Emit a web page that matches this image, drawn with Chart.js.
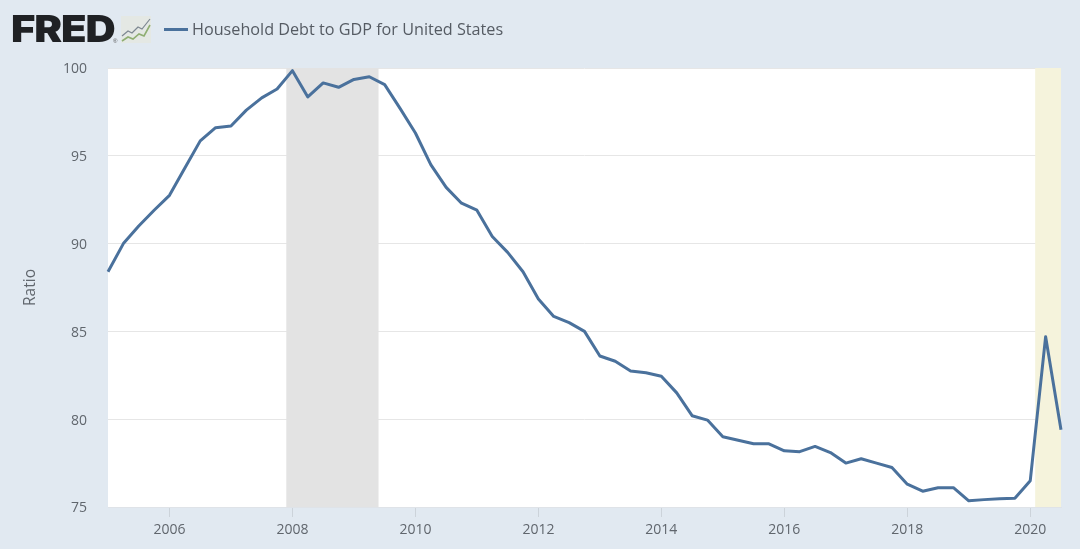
<!DOCTYPE html>
<html>
<head>
<meta charset="utf-8">
<style>
html,body{margin:0;padding:0;width:1080px;height:549px;overflow:hidden;background:#e1e9f1;}
#wrap{position:relative;width:1080px;height:549px;}
canvas#c{position:absolute;left:0;top:0;}
#logo{position:absolute;left:11px;top:8px;font:900 37px "Inter","Liberation Sans",sans-serif;letter-spacing:-1px;color:#1f2124;line-height:42px;transform:scaleX(1.13);transform-origin:left center;}
#reg{position:absolute;left:113px;top:38px;font:6px "Liberation Sans",sans-serif;color:#555;}
#icon{position:absolute;left:120px;top:16px;}
#key{position:absolute;left:164px;top:28px;width:24px;height:2.5px;background:#4a719c;}
#title{position:absolute;left:192px;top:17px;font:16.2px "Open Sans",sans-serif;color:#555b63;line-height:24px;white-space:nowrap;}
</style>
</head>
<body>
<div id="wrap">
<canvas id="c" width="1080" height="549"></canvas>
<div id="logo">FRED</div>
<div id="reg">®</div>
<svg id="icon" width="32" height="28" viewBox="0 0 32 28">
<rect x="1" y="0" width="30" height="27" fill="#e4e8e4"/>
<polyline points="2,20 8,15 12,17 18,11 22,13 30,3" fill="none" stroke="#7d8791" stroke-width="1.2"/>
<polyline points="2,25 8,21 13,23 19,18 24,20 30,9" fill="none" stroke="#8fae72" stroke-width="1.6"/>
</svg>
<div id="key"></div>
<div id="title"></div>
</div>
<script src="https://cdn.jsdelivr.net/npm/chart.js@4"></script>
<script>
const seriesName = "Household Debt to GDP for United States";
const yAxisTitle = "Ratio";
const startYear = 2005;
const quarterStep = 0.25;
const debtToGdp = [
  88.4, 90.0, 91.0, 91.9,
  92.75, 94.3, 95.85, 96.6,
  96.7, 97.6, 98.3, 98.8,
  99.85, 98.35, 99.15, 98.9,
  99.35, 99.5, 99.05, 97.7,
  96.3, 94.5, 93.2, 92.3,
  91.9, 90.4, 89.5, 88.4,
  86.85, 85.85, 85.5, 85.0,
  83.6, 83.3, 82.75, 82.65,
  82.45, 81.5, 80.2, 79.95,
  79.0, 78.8, 78.6, 78.6,
  78.2, 78.15, 78.45, 78.1,
  77.5, 77.75, 77.5, 77.25,
  76.3, 75.9, 76.1, 76.1,
  75.35, 75.42, 75.47, 75.5,
  76.5, 84.7, 79.4
];
const recessionStarts = [2007.9, 2020.08];
const recessionEnds = [2009.4, 2020.5];
const recessionColors = ["#e3e3e3", "#f5f3dc"];
const yTicks = [75, 80, 85, 90, 95, 100];
const xTicks = [2006, 2008, 2010, 2012, 2014, 2016, 2018, 2020];

document.getElementById("title").textContent = seriesName;
const points = debtToGdp.map((v, i) => ({x: startYear + i * quarterStep, y: v}));

const bands = {
  id: "bands",
  beforeDatasetsDraw(chart) {
    const {ctx, chartArea: a, scales: {x}} = chart;
    ctx.save();
    recessionStarts.forEach((s, i) => {
      const l = x.getPixelForValue(s), r = x.getPixelForValue(recessionEnds[i]);
      ctx.fillStyle = recessionColors[i];
      ctx.fillRect(l, a.top, r - l, a.bottom - a.top);
    });
    ctx.restore();
  }
};
const plotBg = {
  id: "plotBg",
  beforeDraw(chart) {
    const {ctx, chartArea: a} = chart;
    ctx.save();
    ctx.fillStyle = "#ffffff";
    ctx.fillRect(a.left, a.top, a.right - a.left, a.bottom - a.top);
    ctx.restore();
  }
};

new Chart(document.getElementById("c"), {
  type: "line",
  data: {datasets: [{
    label: seriesName,
    data: points,
    borderColor: "#4a719c",
    borderWidth: 3,
    pointRadius: 0,
    tension: 0,
    borderJoinStyle: "round",
    clip: false
  }]},
  plugins: [plotBg, bands],
  options: {
    responsive: false,
    animation: false,
    layout: {padding: {top: 68, right: 19, left: 0, bottom: 0}},
    plugins: {legend: {display: false}, tooltip: {enabled: false}},
    scales: {
      x: {
        type: "linear",
        min: startYear,
        max: 2020.5,
        afterBuildTicks(s) { s.ticks = xTicks.map(v => ({value: v})); },
        afterFit(s) { s.height = 42; },
        border: {display: true, color: "#dfe3e8"},
        grid: {display: true, drawOnChartArea: false, drawTicks: true, tickLength: 10, color: "#ccd3da"},
        ticks: {
          autoSkip: false, maxRotation: 0, padding: 5,
          color: "#60666d",
          font: {family: "Open Sans", size: 14},
          callback: v => String(v)
        }
      },
      y: {
        min: 75,
        max: 100,
        afterBuildTicks(s) { s.ticks = yTicks.map(v => ({value: v})); },
        afterFit(s) { s.width = 108; },
        border: {display: false},
        grid: {color: "#e6e6e6", lineWidth: 1, drawTicks: false},
        title: {display: true, text: yAxisTitle, color: "#60666d", padding: {top: 21, bottom: 0}, font: {family: "Open Sans", size: 15.5}},
        ticks: {
          padding: 21,
          labelOffset: 1.5,
          color: "#60666d",
          font: {family: "Open Sans", size: 14},
          callback: v => String(v)
        }
      }
    }
  }
});
</script>
</body>
</html>
